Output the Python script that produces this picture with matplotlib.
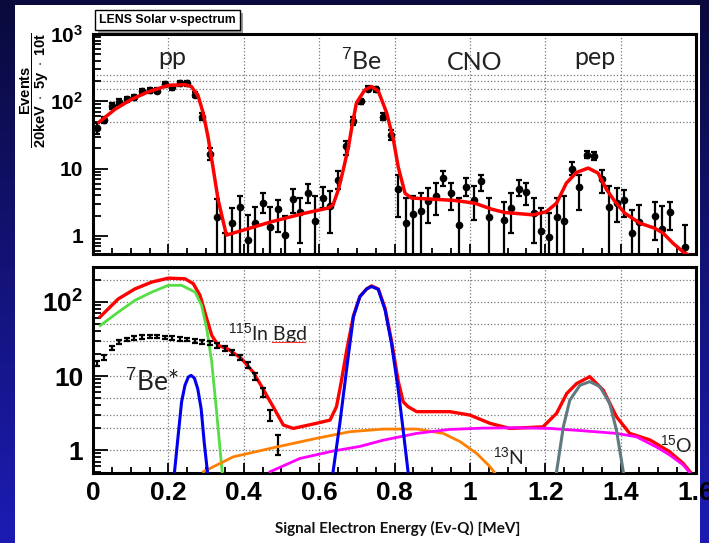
import numpy as np
import matplotlib.pyplot as plt
from matplotlib.patches import Rectangle
from matplotlib.ticker import MultipleLocator, LogLocator, NullFormatter
import matplotlib.patheffects as pe

plt.rcParams['font.family'] = 'Liberation Sans'
plt.rcParams['mathtext.fontset'] = 'custom'
plt.rcParams['mathtext.rm'] = 'Liberation Sans'
plt.rcParams['mathtext.bf'] = 'Liberation Sans:bold'
plt.rcParams['mathtext.it'] = 'Liberation Sans:italic'

nan = np.nan

# ---- top panel: simulated LENS spectrum, 20 keV bins ----
bin_centres = np.round(np.arange(0.01, 1.6, 0.02), 2)

events = [40.5, 52.7, 85, 98, 107, 114, 141, 147, 144, 182,
          162, 185, 185, 126, 59, 16.7, 1.94, 0.4, 1.55, 2.68,
          0.87, 1.58, 3.14, 1.38, 2.5, 1.02, 3.53, 2.3, 4.3, 1.69,
          3.7, 2.8, 6.9, 21.6, 51.5, 100, 155, 151, 59, 31.8,
          5.0, 1.58, 2.1, 2.36, 3.3, 3.96, 7.2, 4.3, 1.44, 5.4,
          3.45, 6.5, 1.94, nan, 1.73, 2.59, 5.0, 4.5, 2.23, 1.2,
          0.98, 1.94, 1.67, 9.9, 5.3, 16.2, 15.2, 7.0, 2.7, 3.1,
          3.37, 1.12, 1.63, nan, 1.99, 1.26, 2.3, nan, 0.69, nan]

events_lo = [32.2, 47, 77, 89, 97, 104, 129, 135, 132, 168,
             149, 171, 171, 115, 52, 13.6, 0.01, 0.01, 0.01, 0.01,
             0.01, 0.01, 2.18, 0.01, 1.16, 0.01, 2.18, 0.78, 3.14, 0.01,
             2.6, 1.1, 5.0, 16.2, 45, 91, 143, 139, 52, 26.5,
             1.94, 0.01, 0.01, 0.01, 1.55, 2.06, 5.45, 2.45, 0.01, 3.86,
             1.73, 4.6, 0.01, nan, 0.01, 1.1, 3.86, 2.9, 0.78, 0.01,
             0.01, 0.01, 0.01, 8.1, 2.45, 14.5, 13.3, 4.3, 0.01, 1.63,
             1.94, 0.01, 0.01, nan, 0.87, 0.01, 1.23, nan, 0.01, nan]

events_hi = [48.3, 58, 93, 107, 117, 124, 153, 159, 156, 196,
             175, 199, 199, 137, 66, 20.3, 3.5, 1.1, 2.6, 3.86,
             2.06, 2.74, 4.4, 2.68, 3.45, 1.99, 4.97, 3.66, 5.9, 3.86,
             5.3, 4.6, 9.1, 25.5, 58, 109, 167, 163, 66, 37,
             8.1, 3.66, 3.86, 4.3, 5.15, 6.1, 9.1, 6.1, 3.66, 7.3,
             5.45, 8.1, 3.66, nan, 3.25, 4.3, 6.9, 6.1, 3.66, 2.6,
             2.18, 3.66, 3.86, 12.4, 8.1, 18.1, 17.5, 9.6, 5.45, 5.15,
             4.86, 2.45, 2.9, nan, 3.25, 2.8, 3.25, nan, 1.46, nan]

fit_x = [0.016, 0.058, 0.102, 0.146, 0.199, 0.243, 0.261, 0.279, 0.292, 0.305,
         0.318, 0.332, 0.354, 0.474, 0.562, 0.624, 0.637, 0.651, 0.664, 0.677,
         0.688, 0.699, 0.721, 0.739, 0.757, 0.779, 0.797, 0.810, 0.828, 0.845,
         0.898, 0.960, 1.013, 1.058, 1.093, 1.137, 1.168, 1.203, 1.230, 1.256,
         1.283, 1.314, 1.340, 1.363, 1.385, 1.411, 1.451, 1.491, 1.513, 1.539,
         1.566, 1.588]
fit_y = [49, 76, 107, 138, 172, 177, 166, 120, 68, 30,
         10.8, 3.45, 1.03, 1.63, 2.18, 2.6, 2.9, 4.86, 9.6, 20,
         45, 95, 147, 166, 142, 68, 27, 10.5, 4.3, 3.66,
         3.53, 3.37, 3.07, 2.5, 2.23, 2.13, 2.06, 2.3, 3.07, 6.1,
         8.8, 10.2, 8.6, 4.86, 3.25, 2.18, 1.55, 1.3, 1.1, 0.78,
         0.58, 0.49]

# ---- bottom panel: components ----
total_x = [0.019, 0.067, 0.111, 0.156, 0.200, 0.244, 0.266, 0.284, 0.302, 0.315,
           0.332, 0.359, 0.394, 0.425, 0.443, 0.478, 0.505, 0.531, 0.593, 0.629,
           0.646, 0.658, 0.673, 0.691, 0.708, 0.726, 0.739, 0.757, 0.775, 0.792,
           0.810, 0.823, 0.836, 0.859, 0.947, 1.000, 1.053, 1.106, 1.194, 1.230,
           1.257, 1.283, 1.318, 1.354, 1.389, 1.424, 1.478, 1.530, 1.566, 1.584]
total_y = [63, 110, 150, 186, 210, 206, 177, 123, 59, 35.5,
           26, 23, 17.2, 11.3, 7.9, 3.85, 2.18, 1.96, 2.3, 2.54,
           3.85, 8, 22, 65, 118, 150, 165, 150, 82, 30,
           8.5, 4.5, 3.85, 3.3, 3.3, 2.97, 2.3, 1.96, 2.06, 3.13,
           5.8, 7.9, 9.8, 6.45, 2.82, 1.68, 1.37, 0.95, 0.66, 0.51]

pp_x = [0.019, 0.067, 0.111, 0.156, 0.200, 0.235, 0.271, 0.288, 0.302, 0.315, 0.328, 0.337, 0.343]
pp_y = [48, 73, 105, 136, 168, 168, 136, 90, 43, 15.5, 3.26, 1.04, 0.49]

be7s_x = [0.216, 0.226, 0.235, 0.244, 0.253, 0.260, 0.269, 0.278, 0.287, 0.295, 0.304]
be7s_y = [0.49, 1.58, 4.45, 7.5, 9.7, 10.2, 9.4, 6.7, 3.6, 1.28, 0.49]

be7_x = [0.637, 0.655, 0.676, 0.691, 0.708, 0.726, 0.739, 0.757, 0.775, 0.792, 0.810, 0.823, 0.836]
be7_y = [0.51, 2.3, 16.4, 63, 118, 150, 162, 148, 78, 27.6, 6.5, 1.86, 0.51]

n13_x = [0.293, 0.372, 0.487, 0.593, 0.682, 0.770, 0.859, 0.929, 0.974, 1.018, 1.053, 1.066]
n13_y = [0.51, 0.81, 1.1, 1.44, 1.77, 1.92, 1.92, 1.68, 1.3, 0.90, 0.6, 0.49]

o15_x = [0.470, 0.549, 0.637, 0.708, 0.770, 0.859, 0.947, 1.035, 1.124, 1.212,
         1.301, 1.389, 1.442, 1.495, 1.530, 1.566, 1.584]
o15_y = [0.51, 0.77, 0.97, 1.12, 1.36, 1.68, 1.9, 1.98, 2.0, 1.96,
         1.82, 1.68, 1.51, 1.1, 0.86, 0.63, 0.49]

pep_x = [1.230, 1.248, 1.265, 1.292, 1.318, 1.345, 1.371, 1.389, 1.407]
pep_y = [0.51, 2.06, 4.7, 7.5, 8.4, 7.2, 4.27, 1.86, 0.51]

inbgd = [14.7, 18, 24, 28.8, 31.2, 32.6, 33.5, 34, 34, 33,
         32.6, 31.8, 31.2, 30, 29, 27.9, 26, 23.4, 21, 18,
         14, 10, 6, 3, 1.15]
inbgd_lo = [13.6, 16.7, 22.4, 27.0, 29.4, 30.8, 31.7, 32.2, 32.2, 31.2,
            30.8, 30.0, 29.4, 28.2, 27.2, 26.1, 24.2, 21.7, 19.4, 16.5,
            12.7, 8.9, 5.2, 2.45, 0.86]
inbgd_hi = [15.8, 19.3, 25.6, 30.6, 33.0, 34.4, 35.3, 35.8, 35.8, 34.8,
            34.4, 33.6, 33.0, 31.8, 30.8, 29.7, 27.8, 25.1, 22.6, 19.5,
            15.3, 11.1, 6.8, 3.5, 1.6]
inbgd_x = bin_centres[:len(inbgd)]

# ---------------------------------------------------------------
W, H = 709, 543
fig = plt.figure(figsize=(W / 100, H / 100), dpi=100)

# blue slide background + white panel
bg = fig.add_axes([0, 0, 1, 1], zorder=-10)
grad = np.linspace(0, 1, 256).reshape(-1, 1)
bg.imshow(grad, aspect='auto', extent=(0, 1, 0, 1), origin='upper',
          cmap=plt.matplotlib.colors.LinearSegmentedColormap.from_list('bg', ['#0a0a3c', '#1c1cb4']))
bg.set_axis_off()
fig.add_artist(Rectangle((15 / W, 0), 685 / W, 538 / H, transform=fig.transFigure,
                         facecolor='white', edgecolor='none', zorder=-5))

ax1 = fig.add_axes([93 / W, 1 - 254 / H, 603 / W, 220 / H])
ax2 = fig.add_axes([93 / W, 1 - 473 / H, 603 / W, 206 / H])


def style_axes(ax, ylim, hgrid, lab_size, show_x):
    ax.set_yscale('log')
    ax.set_xlim(0, 1.6)
    ax.set_ylim(*ylim)
    for s in ax.spines.values():
        s.set_linewidth(2.2)
    for x in [0.2, 0.4, 0.6, 0.8, 1.0, 1.2, 1.4]:
        ax.axvline(x, color='#777777', ls=':', lw=0.9, zorder=0)
    for y in hgrid:
        ax.axhline(y, color='#777777', ls=':', lw=0.9, zorder=0)
    ax.xaxis.set_major_locator(MultipleLocator(0.2))
    ax.xaxis.set_minor_locator(MultipleLocator(0.05))
    ax.yaxis.set_major_locator(LogLocator(base=10))
    ax.yaxis.set_minor_locator(LogLocator(base=10, subs=range(2, 10)))
    ax.yaxis.set_minor_formatter(NullFormatter())
    ax.tick_params(which='both', direction='in', top=False, right=False, width=1.3)
    ax.tick_params(axis='y', which='major', length=11, pad=7)
    ax.tick_params(axis='y', which='minor', length=6)
    ax.tick_params(axis='x', which='major', length=7)
    ax.tick_params(axis='x', which='minor', length=4)
    ax.set_yticks([1, 10, 100, 1000])
    ax.set_yticklabels(['1', '10', r'$\mathbf{10}^{\mathbf{2}}$', r'$\mathbf{10}^{\mathbf{3}}$'],
                       fontsize=lab_size, fontweight='bold')
    ax.set_ylim(*ylim)
    if show_x:
        ax.set_xticks([0, 0.2, 0.4, 0.6, 0.8, 1.0, 1.2, 1.4, 1.6])
        ax.set_xticklabels(['0', '0.2', '0.4', '0.6', '0.8', '1', '1.2', '1.4', '1.6'],
                           fontsize=19, fontweight='bold')
        ax.tick_params(axis='x', pad=6)
    else:
        ax.set_xticklabels([])


style_axes(ax1, (0.54, 1000), [50, 100, 150, 200, 250], 15, False)
style_axes(ax2, (0.49, 297), [1, 2, 3, 5, 10, 20, 30, 50, 100, 200], 19, True)

# top panel
ev = np.array(events)
lo = np.array(events_lo)
hi = np.array(events_hi)
ok = ~np.isnan(ev)
ax1.errorbar(bin_centres[ok], ev[ok], yerr=[ev[ok] - lo[ok], hi[ok] - ev[ok]],
             fmt='o', color='black', ms=4.5, elinewidth=1.6, capsize=2.2, capthick=1.6, zorder=3)
ax1.plot(fit_x, fit_y, color='#ff0000', lw=2.5, zorder=4)

lab_font = dict(family='Lato', fontsize=18, color='#222222', ha='center', va='baseline')
ax1.text(0.131, 0.86, 'pp', transform=ax1.transAxes, **lab_font)
ax1.text(0.446, 0.836, r'$^{7}$Be', transform=ax1.transAxes, **lab_font)
ax1.text(0.633, 0.836, 'CNO', transform=ax1.transAxes, **lab_font)
ax1.text(0.832, 0.86, 'pep', transform=ax1.transAxes, **lab_font)

# bottom panel
ax2.plot(total_x, total_y, color='#ff0000', lw=2.4, zorder=3)
ax2.plot(pp_x, pp_y, color='#55dd44', lw=2.0, zorder=4)
ax2.errorbar(inbgd_x, inbgd, yerr=[np.array(inbgd) - np.array(inbgd_lo), np.array(inbgd_hi) - np.array(inbgd)],
             fmt='none', ecolor='black', elinewidth=1.6, capsize=2.0, capthick=1.6, zorder=4)
ax2.plot(be7s_x, be7s_y, color='#0000ee', lw=2.2, zorder=5)
ax2.plot(be7_x, be7_y, color='#0000ee', lw=2.2, zorder=5)
ax2.plot(n13_x, n13_y, color='#ff8000', lw=2.0, zorder=4)
ax2.plot(o15_x, o15_y, color='#ff00ff', lw=2.0, zorder=4)
ax2.plot(pep_x, pep_y, color='#5f7a80', lw=2.2, zorder=4)

comp_font = dict(family='Lato', color='#222222', ha='left', va='baseline')
ax2.text(0.224, 0.646, r'$^{115}$In Bgd', transform=ax2.transAxes, fontsize=14, **comp_font)
# spell-check squiggle under "Bgd" as in the slide
ax2.plot([0.297, 0.352], [0.634, 0.634], transform=ax2.transAxes, color='#ff3030', lw=0.8, zorder=6)
ax2.text(0.053, 0.393, r'$^{7}$Be*', transform=ax2.transAxes, fontsize=19, **comp_font)
ax2.text(0.663, 0.044, r'$^{13}$N', transform=ax2.transAxes, fontsize=14, **comp_font)
ax2.text(0.940, 0.102, r'$^{15}$O', transform=ax2.transAxes, fontsize=14, **comp_font)

# title box
t = fig.text(99 / W, 1 - 20 / H, 'LENS Solar ν-spectrum', fontsize=8.8, fontweight='bold',
             ha='left', va='center',
             bbox=dict(boxstyle='square,pad=0.35', facecolor='white', edgecolor='black', lw=1))
t.get_bbox_patch().set_path_effects([pe.withSimplePatchShadow(offset=(2, -2), shadow_rgbFace='#999999', alpha=1)])

# y label
fig.text(35 / W, 1 - 90 / H,
         r'$\dfrac{\mathbf{Events}}{\mathbf{20keV}\ \cdot\ \mathbf{5y}\ \cdot\ \mathbf{10t}}$',
         rotation=90, fontsize=10.5, ha='center', va='center')

# x label
fig.text(398 / W, 1 - 528 / H, 'Signal Electron Energy (Ev-Q) [MeV]', family='Lato',
         fontweight='bold', fontsize=11, ha='center', va='center', color='#111111')

fig.savefig('out.png', dpi=100, facecolor=fig.get_facecolor())
